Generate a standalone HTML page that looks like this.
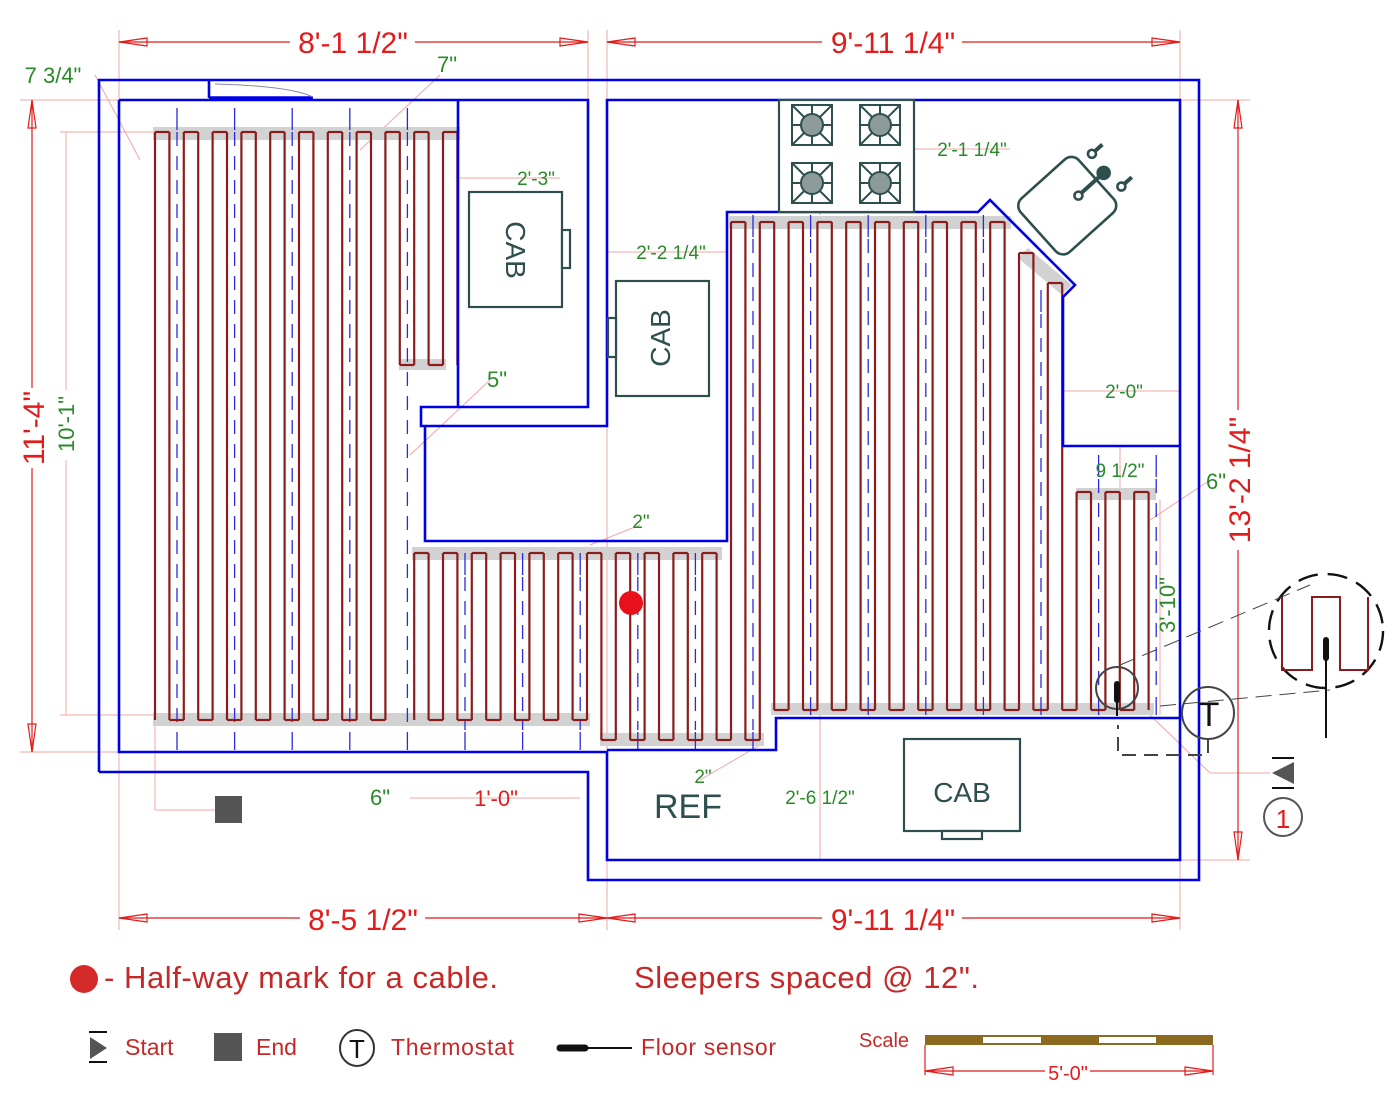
<!DOCTYPE html>
<html><head><meta charset="utf-8"><style>
html,body{margin:0;padding:0;background:#fff;}
svg{display:block;font-family:"Liberation Sans",sans-serif;}
</style></head><body>
<svg id="s" width="1400" height="1108" viewBox="0 0 1400 1108" xmlns="http://www.w3.org/2000/svg">
<rect width="1400" height="1108" fill="#fff"/>
<g stroke="#f3a5a5" stroke-width="1" fill="none">
<line x1="119" y1="30" x2="119" y2="930"/><line x1="588" y1="30" x2="588" y2="100"/><line x1="607" y1="30" x2="607" y2="930"/><line x1="1180" y1="30" x2="1180" y2="930"/>
<line x1="20" y1="100" x2="119" y2="100"/><line x1="20" y1="752" x2="119" y2="752"/>
<line x1="60" y1="132" x2="155" y2="132"/><line x1="60" y1="715" x2="155" y2="715"/>
<line x1="66" y1="132" x2="66" y2="390"/><line x1="66" y1="460" x2="66" y2="715"/>
<line x1="1180" y1="100" x2="1250" y2="100"/><line x1="1180" y1="860" x2="1250" y2="860"/>
<line x1="95" y1="75" x2="140" y2="160"/><line x1="360" y1="150" x2="440" y2="75"/>
<line x1="460" y1="178" x2="560" y2="178"/><line x1="607" y1="252" x2="727" y2="252"/>
<line x1="914" y1="149" x2="1010" y2="149"/><line x1="820" y1="100" x2="820" y2="215"/>
<line x1="1063" y1="391" x2="1180" y2="391"/><line x1="1120" y1="446" x2="1120" y2="492"/>
<line x1="410" y1="455" x2="490" y2="380"/><line x1="820" y1="715" x2="820" y2="860"/>
<line x1="155" y1="725" x2="155" y2="810"/><line x1="155" y1="810" x2="215" y2="810"/>
<line x1="410" y1="798" x2="580" y2="798"/><line x1="590" y1="545" x2="640" y2="525"/>
<line x1="1150" y1="520" x2="1210" y2="480"/><line x1="1160" y1="500" x2="1160" y2="715"/>
<line x1="1150" y1="715" x2="1210" y2="773"/><line x1="1210" y1="773" x2="1270" y2="773"/>
<line x1="700" y1="780" x2="760" y2="745"/>
</g>
<g fill="#d2d2d2">
<rect x="153" y="127" width="307" height="13"/><rect x="153" y="713" width="437" height="13"/>
<rect x="399" y="359" width="47" height="11"/><rect x="412" y="547" width="310" height="13"/>
<rect x="600" y="733" width="164" height="13"/><rect x="729" y="216" width="282" height="13"/>
<polygon points="1018,258 1028,248 1072,285 1062,295"/><rect x="771" y="703" width="383" height="12"/>
<rect x="1076" y="488" width="80" height="12"/>
</g>
<g id="sleep" stroke="#2a2ae0" stroke-width="1.3" fill="none" stroke-dasharray="14,10"></g>
<g id="cab" stroke="#8b1c1c" stroke-width="2.2" fill="none"></g>
<g stroke="#0000e6" stroke-width="2.6" fill="none">
<polyline points="99,772 99,80 1199,80 1199,880 588,880 588,772 99,772"/>
<polyline points="119,100 119,752 607,752 607,860 1180,860 1180,100 607,100 607,426 421,426 421,407 588,407 588,100 119,100"/>
<line x1="458" y1="100" x2="458" y2="407"/>
<line x1="209" y1="80" x2="209" y2="98"/><line x1="209" y1="98" x2="313" y2="98" stroke-width="3.5"/>
<polyline points="425,426 425,541 727,541 727,212 978,212 990,200 1075,285 1063,297 1063,446 1180,446"/>
<polyline points="607,750 776,750 776,718 1180,718"/>
</g>
<path d="M215,84 Q290,86 313,97" stroke="#8888aa" fill="none" stroke-width="1"/>
<g stroke="#2f4f4f" stroke-width="2.2" fill="#fff">
<rect x="469" y="192" width="93" height="115"/><rect x="562" y="230" width="8" height="38"/>
<rect x="616" y="281" width="93" height="115"/><rect x="608" y="318" width="8" height="39"/>
<rect x="904" y="739" width="116" height="92"/><rect x="942" y="831" width="40" height="8"/>
<rect x="779" y="100" width="135" height="112"/>
</g>
<g fill="#2f4f4f" font-size="28">
<text transform="translate(506,250) rotate(90)" text-anchor="middle">CAB</text>
<text transform="translate(670,338) rotate(-90)" text-anchor="middle">CAB</text>
<text x="962" y="802" text-anchor="middle">CAB</text>
<text x="688" y="818" text-anchor="middle" font-size="34">REF</text>
</g>
<g id="burn" stroke="#2f4f4f" stroke-width="2" fill="none"></g>
<g transform="translate(1068,205) rotate(48)" stroke="#2f4f4f" stroke-width="2.6" fill="#fff">
<rect x="-36" y="-38" width="72" height="78" rx="10"/>
<line x1="0" y1="-48" x2="0" y2="-14" stroke-width="4"/>
<circle cx="0" cy="-14" r="4" fill="#fff"/><circle cx="0" cy="-48" r="6" fill="#2f4f4f"/>
<circle cx="-22" cy="-52" r="4" fill="#fff"/><line x1="-22" y1="-56" x2="-22" y2="-66" stroke-width="4"/>
<circle cx="22" cy="-52" r="4" fill="#fff"/><line x1="22" y1="-56" x2="22" y2="-66" stroke-width="4"/>
</g>
<g stroke="#e21b1b" stroke-width="1.2" fill="none">
<line x1="119" y1="42" x2="290" y2="42"/><line x1="415" y1="42" x2="588" y2="42"/>
<line x1="607" y1="42" x2="822" y2="42"/><line x1="962" y1="42" x2="1180" y2="42"/>
<line x1="119" y1="918" x2="300" y2="918"/><line x1="425" y1="918" x2="607" y2="918"/>
<line x1="607" y1="918" x2="822" y2="918"/><line x1="962" y1="918" x2="1180" y2="918"/>
<line x1="32" y1="100" x2="32" y2="388"/><line x1="32" y1="468" x2="32" y2="752"/>
<line x1="1238" y1="100" x2="1238" y2="410"/><line x1="1238" y1="550" x2="1238" y2="860"/>
<line x1="925" y1="1071" x2="1045" y2="1071"/><line x1="1090" y1="1071" x2="1213" y2="1071"/>
<line x1="925" y1="1045" x2="925" y2="1075"/><line x1="1213" y1="1045" x2="1213" y2="1075"/>
<polygon points="119,42 147,38 147,46"/><polygon points="588,42 560,38 560,46"/>
<polygon points="607,42 635,38 635,46"/><polygon points="1180,42 1152,38 1152,46"/>
<polygon points="119,918 147,914 147,922"/><polygon points="607,918 579,914 579,922"/>
<polygon points="607,918 635,914 635,922"/><polygon points="1180,918 1152,914 1152,922"/>
<polygon points="32,100 28,128 36,128"/><polygon points="32,752 28,724 36,724"/>
<polygon points="1238,100 1234,128 1242,128"/><polygon points="1238,860 1234,832 1242,832"/>
<polygon points="925,1071 953,1067 953,1075"/><polygon points="1213,1071 1185,1067 1185,1075"/>
</g>
<g fill="#e21b1b" font-size="30" text-anchor="middle">
<text x="353" y="53">8'-1 1/2"</text><text x="893" y="53">9'-11 1/4"</text>
<text x="363" y="930">8'-5 1/2"</text><text x="893" y="930">9'-11 1/4"</text>
<text transform="translate(44,428) rotate(-90)">11'-4"</text>
<text transform="translate(1250,480) rotate(-90)">13'-2 1/4"</text>
<text x="496" y="806" font-size="22">1'-0"</text>
<text x="1068" y="1080" font-size="20">5'-0"</text>
</g>
<g fill="#2a8a2a" font-size="19" text-anchor="middle">
<text x="53" y="83" font-size="22">7 3/4"</text><text x="447" y="72" font-size="22">7"</text>
<text x="536" y="185">2'-3"</text><text x="671" y="259">2'-2 1/4"</text>
<text x="497" y="387" font-size="22">5"</text><text x="972" y="156">2'-1 1/4"</text>
<text x="1124" y="398">2'-0"</text><text x="1120" y="477">9 1/2"</text>
<text x="1216" y="489" font-size="22">6"</text><text x="641" y="528">2"</text>
<text transform="translate(1175,605) rotate(-90)" font-size="22">3'-10"</text>
<text x="380" y="805" font-size="22">6"</text><text x="703" y="783">2"</text>
<text x="820" y="804">2'-6 1/2"</text>
<text transform="translate(74,424) rotate(-90)" font-size="22">10'-1"</text>
</g>
<circle cx="631" cy="603" r="12" fill="#e8101a"/>
<rect x="215" y="796" width="27" height="27" fill="#555"/>
<g stroke="#444" stroke-width="2" fill="none">
<circle cx="1208" cy="713" r="26"/><polyline points="1208,739 1208,755 1118,755 1118,725" stroke-dasharray="14,8"/>
<circle cx="1117" cy="688" r="21"/>
<circle cx="1326" cy="631" r="57" stroke="#111" stroke-width="2.4" stroke-dasharray="20,10"/>
<line x1="1120" y1="665" x2="1310" y2="585" stroke-width="1" stroke-dasharray="16,8"/>
<line x1="1160" y1="706" x2="1330" y2="690" stroke-width="1" stroke-dasharray="16,8"/>
<circle cx="1283" cy="817" r="19" stroke="#555"/>
</g>
<polyline points="1282,597 1282,670 1312,670 1312,597 1340,597 1340,670 1368,670 1368,597" stroke="#8b1c1c" stroke-width="2" fill="none"/>
<line x1="1326" y1="640" x2="1326" y2="738" stroke="#111" stroke-width="2"/>
<line x1="1326" y1="640" x2="1326" y2="658" stroke="#111" stroke-width="6" stroke-linecap="round"/>
<line x1="1117" y1="684" x2="1117" y2="700" stroke="#111" stroke-width="6" stroke-linecap="round"/>
<line x1="1117" y1="700" x2="1117" y2="716" stroke="#111" stroke-width="2"/>
<text x="1209" y="726" font-size="34" text-anchor="middle" fill="#111">T</text>
<polygon points="1272,773 1294,762 1294,784" fill="#555"/>
<line x1="1272" y1="758" x2="1294" y2="758" stroke="#111" stroke-width="2"/><line x1="1272" y1="788" x2="1294" y2="788" stroke="#111" stroke-width="2"/>
<text x="1283" y="828" font-size="26" text-anchor="middle" fill="#e21b1b">1</text>
<circle cx="84" cy="979" r="14" fill="#d42a2a"/>
<g fill="#c62828" font-size="31"><text x="104" y="988" textLength="394">- Half-way mark for a cable.</text><text x="634" y="988" textLength="345">Sleepers spaced @ 12".</text></g>
<g fill="#c62828" font-size="23"><text x="125" y="1055">Start</text><text x="256" y="1055">End</text><text x="391" y="1055" textLength="123">Thermostat</text><text x="641" y="1055" textLength="135">Floor sensor</text>
<text x="859" y="1047" font-size="20">Scale</text></g>
<polygon points="90,1037 107,1048 90,1059" fill="#555"/>
<line x1="89" y1="1032" x2="107" y2="1032" stroke="#111" stroke-width="2"/><line x1="89" y1="1062" x2="107" y2="1062" stroke="#111" stroke-width="2"/>
<rect x="214" y="1033" width="28" height="28" fill="#555"/>
<ellipse cx="357" cy="1048" rx="17" ry="18" stroke="#333" stroke-width="2" fill="none"/>
<text x="357" y="1058" font-size="26" text-anchor="middle" fill="#111">T</text>
<line x1="560" y1="1048" x2="585" y2="1048" stroke="#111" stroke-width="7" stroke-linecap="round"/>
<line x1="585" y1="1048" x2="632" y2="1048" stroke="#111" stroke-width="2"/>
<rect x="925" y="1035" width="288" height="10" fill="#8b6a20"/>
<rect x="983" y="1037" width="58" height="6" fill="#fff"/><rect x="1099" y="1037" width="57" height="6" fill="#fff"/>
<script>
var ns="http://www.w3.org/2000/svg";
function L(g,x1,y1,x2,y2,st){var l=document.createElementNS(ns,"line");l.setAttribute("x1",x1);l.setAttribute("y1",y1);l.setAttribute("x2",x2);l.setAttribute("y2",y2);if(st)l.setAttribute("stroke-dasharray","none");g.appendChild(l);}
var segs=[];function add(a,b,t,bt){for(var i=a;i<=b;i++)segs.push([i,t,bt]);}
add(0,16,132,720);add(17,21,132,365);add(18,30,553,720);add(31,39,553,740);add(40,42,222,740);add(43,59,222,710);add(60,61,253,710);add(62,63,283,710);add(64,69,492,710);
function X(i){return 155+14.4*i;}
var c=document.getElementById("cab");
segs.forEach(function(s){L(c,X(s[0]),s[1],X(s[0]),s[2]);});
segs.forEach(function(s){segs.forEach(function(t){if(t[0]!==s[0]+1)return;
if(s[0]%2===0&&s[1]===t[1])L(c,X(s[0]),s[1],X(t[0]),t[1]);
if(s[0]%2===1&&s[2]===t[2])L(c,X(s[0]),s[2],X(t[0]),t[2]);});});
var sl=document.getElementById("sleep");
var sr=[[0,108,750],[1,108,750],[2,108,750],[3,108,750],[4,108,750],[5,553,750],[6,553,750],[7,553,750],[8,553,750],[9,553,750],[10,215,750],[11,215,715],[12,215,715],[13,215,715],[14,215,715],[15,290,715],[16,455,715],[17,455,715]];
sr.forEach(function(s){var x=177+57.6*s[0];L(sl,x,s[1]+24,x,s[2]-20);L(sl,x,s[1],x,s[1]+22,1);L(sl,x,s[2]-18,x,s[2],1);});
var b=document.getElementById("burn");
[[812,125],[880,125],[812,183],[880,183]].forEach(function(p){var x=p[0],y=p[1];
var r=document.createElementNS(ns,"rect");r.setAttribute("x",x-20);r.setAttribute("y",y-20);r.setAttribute("width",40);r.setAttribute("height",40);b.appendChild(r);
L(b,x-20,y-20,x+20,y+20);L(b,x+20,y-20,x-20,y+20);L(b,x,y-20,x,y+20);L(b,x-20,y,x+20,y);
var ci=document.createElementNS(ns,"circle");ci.setAttribute("cx",x);ci.setAttribute("cy",y);ci.setAttribute("r",11);ci.setAttribute("fill","#8c9a9a");b.appendChild(ci);});
</script>
</svg>
</body></html>
